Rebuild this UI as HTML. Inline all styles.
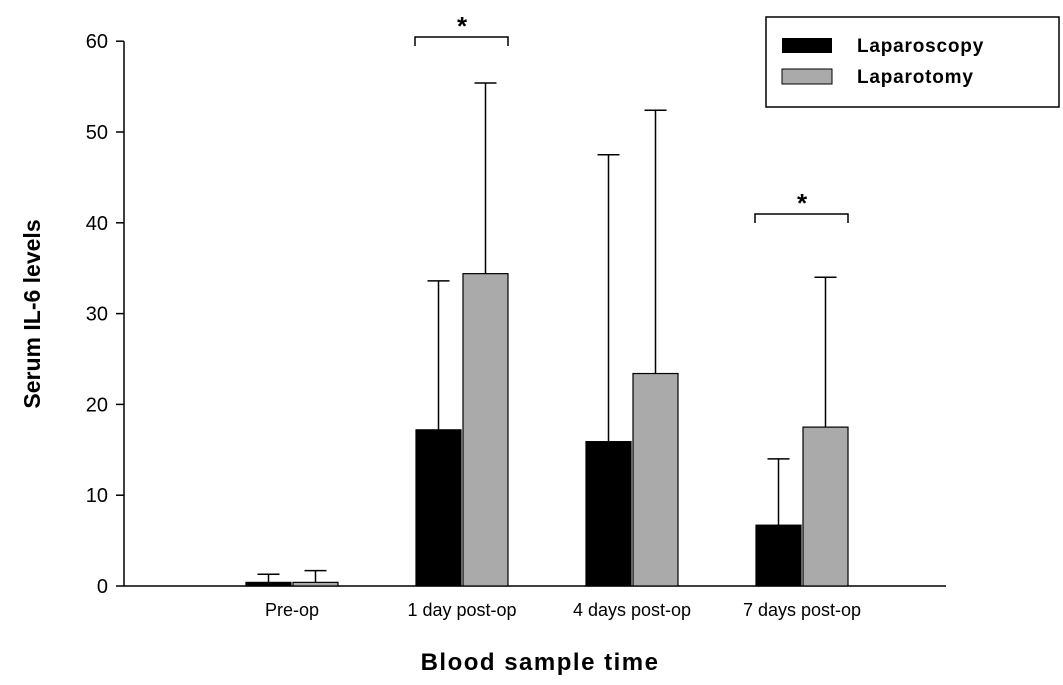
<!DOCTYPE html>
<html><head><meta charset="utf-8"><style>
html,body{margin:0;padding:0;background:#fff;}
svg{display:block;font-family:"Liberation Sans",Arial,sans-serif;}
</style></head><body>
<svg id="chart" width="1063" height="685" viewBox="0 0 1063 685">
<g id="axes"></g>
<g id="bars"></g>
<g id="sig"></g>
<text x="40" y="314" transform="rotate(-90 40 314)" text-anchor="middle" font-size="23" font-weight="bold">Serum IL-6 levels</text>
<text x="540" y="670" text-anchor="middle" font-size="24" font-weight="bold" letter-spacing="1.5">Blood sample time</text>
<g>
<rect x="766" y="17" width="293" height="90" fill="#fff" stroke="#000" stroke-width="1.5"/>
<g>
<rect x="782" y="38" width="50" height="15" fill="#000"/>
<text x="857" y="52" font-size="19" font-weight="bold" letter-spacing="0.8">Laparoscopy</text></g>
<g>
<rect x="782" y="69" width="50" height="15" fill="#aaa" stroke="#000"/>
<text x="857" y="83" font-size="19" font-weight="bold" letter-spacing="0.8">Laparotomy</text></g>
</g>
</svg>
<script>
const categories=["Pre-op","1 day post-op","4 days post-op","7 days post-op"];
const laparoscopy=[0.4,17.2,15.9,6.7];
const laparoscopyErr=[1.3,33.6,47.5,14.0];
const laparotomy=[0.4,34.4,23.4,17.5];
const laparotomyErr=[1.7,55.4,52.4,34.0];
const yTicks=[0,10,20,30,40,50,60];
const sigIndex=[1,3];

const NS="http://www.w3.org/2000/svg";
const y0=586, pxPerUnit=9.08;
const y=v=>y0-v*pxPerUnit;
const catX=i=>292+i*170;
const barW=45;
function el(tag,attrs,parent){const e=document.createElementNS(NS,tag);for(const k in attrs)e.setAttribute(k,attrs[k]);parent.appendChild(e);return e;}
const axes=document.getElementById('axes'),bars=document.getElementById('bars'),sig=document.getElementById('sig');
let a=el('line',{x1:124,y1:y(60),x2:124,y2:y0,stroke:'#000','stroke-width':1.5},axes);


a=el('line',{x1:124,y1:y0,x2:946,y2:y0,stroke:'#000','stroke-width':1.5},axes);


yTicks.forEach(t=>{
  el('line',{x1:116,y1:y(t),x2:124,y2:y(t),stroke:'#000','stroke-width':1.5},axes);
  const tx=el('text',{x:108,y:y(t)+7,'text-anchor':'end','font-size':20},axes);
  tx.textContent=t;
  
  
});
categories.forEach((c,i)=>{
  const tx=el('text',{x:catX(i),y:616,'text-anchor':'middle','font-size':18},axes);
  tx.textContent=c;
  
  
});
function bar(i,val,err,left,fill,name){
  const x=left?catX(i)-barW-1:catX(i)+1;
  const cx=x+barW/2;
  el('line',{x1:cx,y1:y(val),x2:cx,y2:y(err),stroke:'#000','stroke-width':1.5},bars);
  el('line',{x1:cx-11,y1:y(err),x2:cx+11,y2:y(err),stroke:'#000','stroke-width':1.5},bars);
  const r=el('rect',{x:x,y:y(val),width:barW,height:Math.max(y0-y(val),1),fill:fill,stroke:'#000','stroke-width':1.2},bars);
  
  
}
categories.forEach((c,i)=>{
  bar(i,laparoscopy[i],laparoscopyErr[i],true,'#000','bar-laparoscopy-'+i);
  bar(i,laparotomy[i],laparotomyErr[i],false,'#aaa','bar-laparotomy-'+i);
});
sigIndex.forEach(i=>{
  const yy=i===1?37:214;
  const x1=catX(i)-47,x2=catX(i)+46;
  const p=el('path',{d:`M${x1} ${yy+9}V${yy}H${x2}V${yy+9}`,fill:'none',stroke:'#000','stroke-width':1.5},sig);
  
  
  const s=el('text',{x:catX(i),y:yy-2,'text-anchor':'middle','font-size':26,'font-weight':'bold'},sig);
  s.textContent='*';
  
  
});
</script>
</body></html>
